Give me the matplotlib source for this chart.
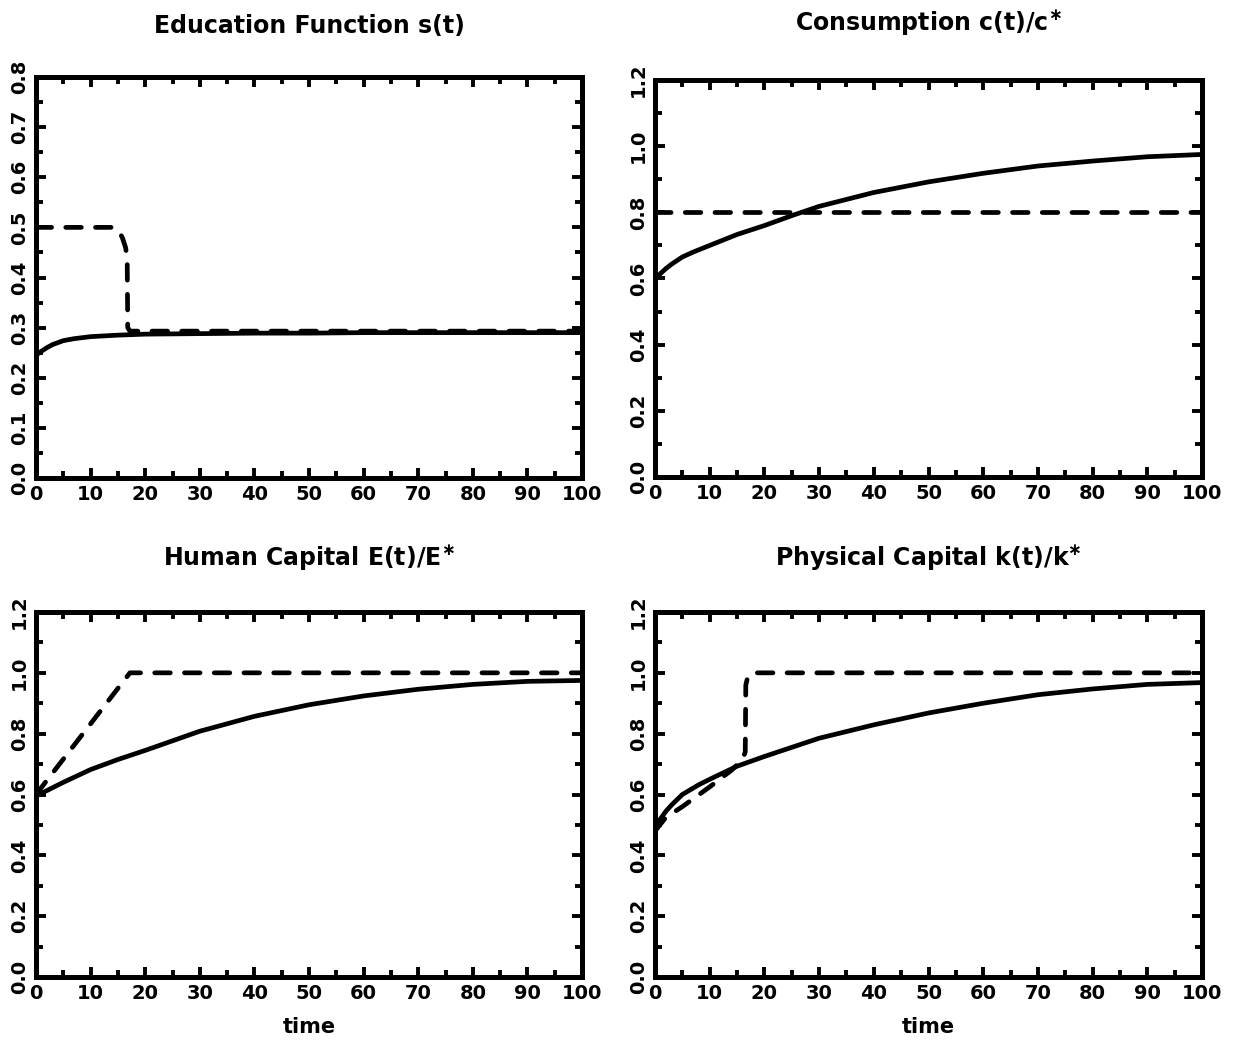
import matplotlib
matplotlib.use("Agg")
import matplotlib.pyplot as plt
from matplotlib.ticker import MultipleLocator, FormatStrFormatter

# ---------------- data ----------------
# Education function s(t)
t_s_solid = [0, 1, 2, 3, 4, 5, 7, 10, 15, 20, 30, 40, 50, 60, 70, 80, 90, 100]
s_solid = [0.245, 0.253, 0.260, 0.266, 0.270, 0.274, 0.278, 0.282, 0.285, 0.287,
           0.288, 0.289, 0.289, 0.290, 0.290, 0.290, 0.290, 0.290]
t_s_dash = [0, 14, 15, 15.8, 16.4, 16.7, 16.8, 17.2, 100]
s_dash = [0.5, 0.5, 0.495, 0.48, 0.46, 0.44, 0.30, 0.293, 0.293]

# Consumption c(t)/c*
t_c_solid = [0, 1, 2, 3, 5, 7, 10, 15, 20, 25, 30, 40, 50, 60, 70, 80, 90, 100]
c_solid = [0.595, 0.615, 0.630, 0.643, 0.665, 0.680, 0.700, 0.733, 0.760, 0.790,
           0.818, 0.860, 0.892, 0.918, 0.940, 0.955, 0.968, 0.975]
t_c_dash = [0, 100]
c_dash = [0.8, 0.8]

# Human capital E(t)/E*
t_e_solid = [0, 5, 10, 15, 20, 30, 40, 50, 60, 70, 80, 90, 100]
e_solid = [0.595, 0.640, 0.682, 0.715, 0.745, 0.808, 0.857, 0.895, 0.924, 0.946,
           0.962, 0.972, 0.975]
t_e_dash = [0, 17.2, 100]
e_dash = [0.6, 1.0, 1.0]

# Physical capital k(t)/k*
t_k_solid = [0, 1, 2, 3, 5, 8, 10, 15, 20, 30, 40, 50, 60, 70, 80, 90, 100]
k_solid = [0.495, 0.52, 0.545, 0.565, 0.600, 0.632, 0.650, 0.693, 0.725, 0.785,
           0.829, 0.868, 0.900, 0.928, 0.947, 0.962, 0.968]
t_k_dash = [0, 2, 5, 10, 14, 16, 16.5, 16.6, 17.0, 17.9, 100]
k_dash = [0.48, 0.525, 0.56, 0.625, 0.68, 0.715, 0.74, 0.96, 0.99, 1.0, 1.0]

titles = ["Education Function s(t)", r"Consumption c(t)/c$^{\ast}$",
          r"Human Capital E(t)/E$^{\ast}$", r"Physical Capital k(t)/k$^{\ast}$"]

# ---------------- figure ----------------
plt.rcParams['font.family'] = ['DejaVu Sans']
plt.rcParams['font.weight'] = 'bold'
plt.rcParams['mathtext.default'] = 'bf'

fig = plt.figure(figsize=(12.33, 10.45), dpi=100)

W, H = 1233, 1045
def box(x0, y0, x1, y1):
    return [x0 / W, 1 - y1 / H, (x1 - x0) / W, (y1 - y0) / H]

axes = [
    fig.add_axes(box(36, 77, 582, 478)),
    fig.add_axes(box(655, 80, 1202, 477)),
    fig.add_axes(box(36, 612, 582, 977)),
    fig.add_axes(box(655, 612, 1202, 977)),
]

series = [
    (t_s_solid, s_solid, t_s_dash, s_dash),
    (t_c_solid, c_solid, t_c_dash, c_dash),
    (t_e_solid, e_solid, t_e_dash, e_dash),
    (t_k_solid, k_solid, t_k_dash, k_dash),
]

lw = 3.4
for i, ax in enumerate(axes):
    ts, ys, td, yd = series[i]
    ax.plot(ts, ys, color='black', lw=lw, solid_capstyle='butt', solid_joinstyle='round')
    ax.plot(td, yd, color='black', lw=lw, linestyle=(0, (3.3, 3.0)),
            dash_capstyle='round', dash_joinstyle='round')
    ax.set_xlim(0, 100)
    if i == 0:
        ax.set_ylim(0, 0.8)
        ax.yaxis.set_major_locator(MultipleLocator(0.1))
        ax.yaxis.set_minor_locator(MultipleLocator(0.05))
    else:
        ax.set_ylim(0, 1.2)
        ax.yaxis.set_major_locator(MultipleLocator(0.2))
        ax.yaxis.set_minor_locator(MultipleLocator(0.1))
    ax.yaxis.set_major_formatter(FormatStrFormatter('%.1f'))
    ax.xaxis.set_major_locator(MultipleLocator(10))
    ax.xaxis.set_minor_locator(MultipleLocator(5))
    for sp in ax.spines.values():
        sp.set_linewidth(3.6)
    ax.tick_params(which='both', direction='in', top=True, right=True,
                   width=2.8, color='black')
    ax.tick_params(which='major', length=7, labelsize=14, pad=5)
    ax.tick_params(which='minor', length=5)
    for lab in ax.get_yticklabels():
        lab.set_rotation(90)
        lab.set_va('center')
        lab.set_fontweight('bold')
    for lab in ax.get_xticklabels():
        lab.set_fontweight('bold')
    ax.set_title(titles[i], fontsize=17, fontweight='bold',
                 pad=(32 if i == 0 else (36 if i == 1 else 34)))
    if i >= 2:
        ax.set_xlabel('time', fontsize=15, fontweight='bold', labelpad=10)

fig.savefig('out.png', dpi=100)
